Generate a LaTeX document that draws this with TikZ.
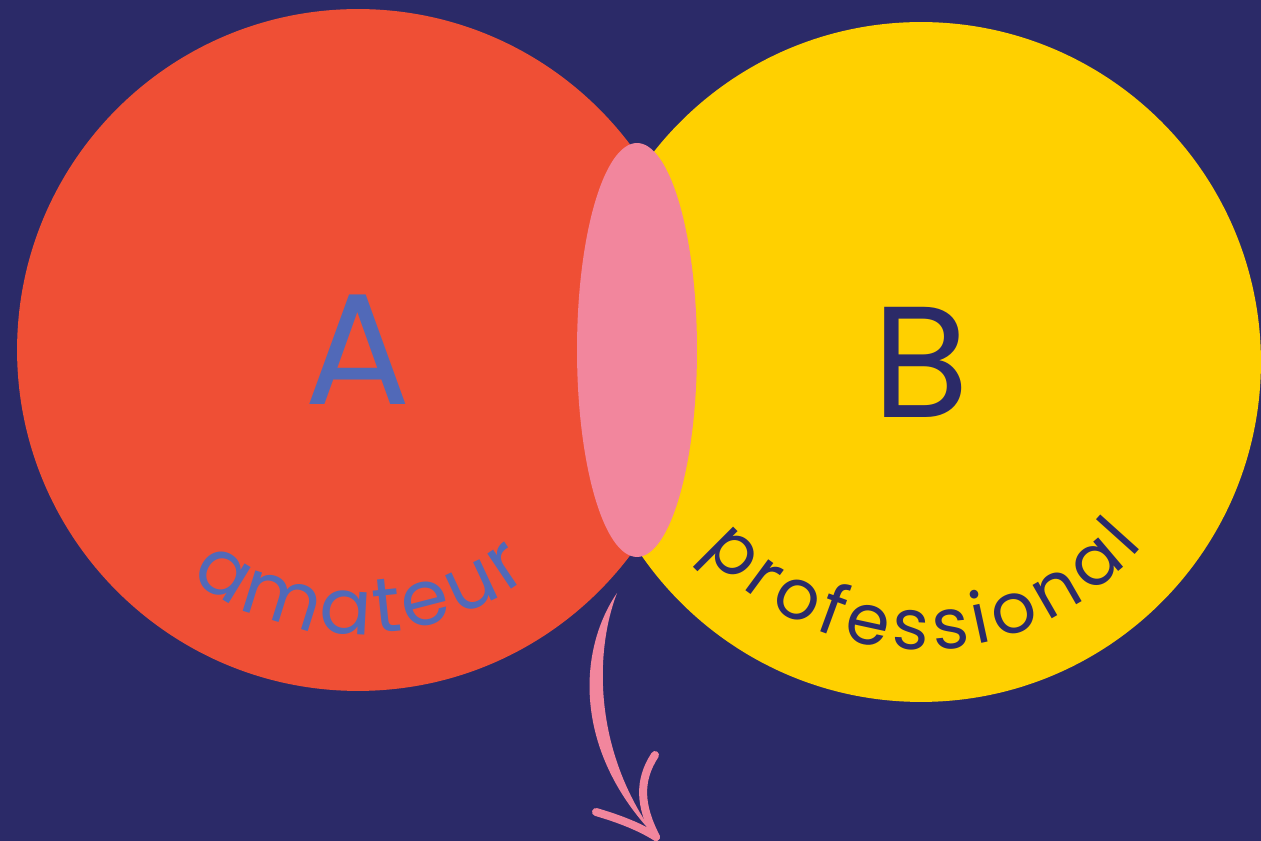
\documentclass[tikz,border=0pt]{standalone}
\usepackage{fontspec}
\setmainfont{Poppins}
\usetikzlibrary{shapes.geometric,decorations.text}
\definecolor{navy}{HTML}{2B2A68}
\definecolor{tomato}{HTML}{EF4F35}
\definecolor{sun}{HTML}{FFD000}
\definecolor{rose}{HTML}{F2869D}
\definecolor{slate}{HTML}{5169B8}

\begin{document}
\begin{tikzpicture}[x=0.02cm, y=0.02cm,
    set/.style={circle, inner sep=0pt, font=\fontsize{90}{90}\selectfont},
    curved/.style={decorate, decoration={text along path, text align=center, text={#1}}},
    stroke/.style={rose, line width=0.16cm, line cap=round}]
    \fill[navy] (0,0) rectangle (1261,841);
    %sets
    \node[set, fill=tomato, text=slate, minimum size=13.64cm] (ama) at (358,491) {A};
    \node[set, fill=sun, text=navy, minimum size=13.6cm] (pro) at (921,479) {B};
    \node[ellipse, fill=rose, inner sep=0pt, minimum width=2.4cm, minimum height=8.28cm] (both) at (637,491) {};
    %labels
    \path[curved={|\fontsize{44}{52}\selectfont\color{slate}\kern2.5pt|amateur}] (ama.center) ++(200:284) arc[start angle=200, end angle=340, radius=284];
    \path[curved={|\fontsize{40}{48}\selectfont\color{navy}\kern3.6pt|professional}] (pro.center) ++(195:288) arc[start angle=195, end angle=345, radius=288];
    %arrow
    \coordinate (tail) at (617,248);
    \coordinate (tip) at (656,4);
    \fill[rose] (tail) .. controls (578,191) and (572,91) .. (tip) .. controls (592,91) and (595,191) .. (tail);
    \draw[stroke] (596,29) .. controls (620,22) and (640,14) .. (tip);
    \draw[stroke] (655,86) .. controls (638,60) and (640,35) .. (tip);
\end{tikzpicture}
\end{document}
